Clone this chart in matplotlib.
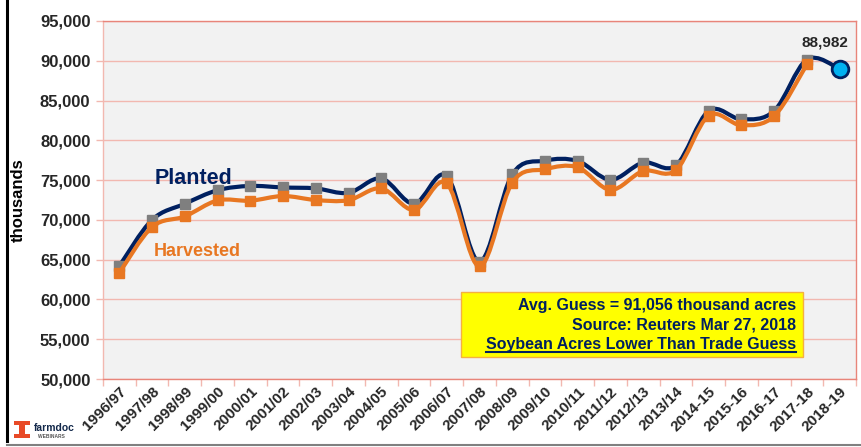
import matplotlib

matplotlib.use("Agg")

import matplotlib.pyplot as plt
import numpy as np
from matplotlib.lines import Line2D
from matplotlib.patches import PathPatch, Rectangle
from matplotlib.path import Path

plt.rcParams["font.family"] = ["Liberation Sans", "DejaVu Sans"]
plt.rcParams["font.weight"] = "bold"

# --- data (thousand acres) ---
years = [
    "1996/97", "1997/98", "1998/99", "1999/00", "2000/01", "2001/02",
    "2002/03", "2003/04", "2004/05", "2005/06", "2006/07", "2007/08",
    "2008/09", "2009/10", "2010/11", "2011/12", "2012/13", "2013/14",
    "2014-15", "2015-16", "2016-17", "2017-18", "2018-19",
]
planted = [
    64205, 70005, 72025, 73730, 74266, 74075, 73963, 73404, 75208, 72032,
    75522, 64741, 75718, 77451, 77404, 75046, 77198, 76840, 83700, 82650,
    83700, 90150, 88982,
]
harvested = [
    63349, 69110, 70441, 72446, 72408, 73001, 72497, 72476, 73958, 71251,
    74602, 64146, 74681, 76372, 76610, 73776, 76144, 76253, 83100, 81900,
    83050, 89550,
]
label_2018 = "88,982"
box_lines = [
    "Avg. Guess = 91,056 thousand acres",
    "Source: Reuters Mar 27, 2018",
    "Soybean Acres Lower Than Trade Guess",
]

NAVY = "#002060"
ORANGE = "#E87722"
GRID = "#F2B8B0"
FRAME = "#E8857A"


def smooth_path(xs, ys):
    # Excel-style smoothed line: cubic Bezier through every point
    pts = np.column_stack([xs, ys]).astype(float)
    n = len(pts)
    verts = [pts[0]]
    codes = [Path.MOVETO]
    for i in range(n - 1):
        p0 = pts[i - 1] if i > 0 else pts[i]
        p1 = pts[i]
        p2 = pts[i + 1]
        p3 = pts[i + 2] if i + 2 < n else pts[i + 1]
        c1 = p1 + (p2 - p0) / 6.0
        c2 = p2 - (p3 - p1) / 6.0
        verts += [c1, c2, p2]
        codes += [Path.CURVE4] * 3
    return Path(verts, codes)


W, H = 861, 447
fig = plt.figure(figsize=(W / 100, H / 100), dpi=100)
ax = fig.add_axes([103 / W, 1 - 379 / H, 753 / W, 358 / H])
ax.set_facecolor("#F2F2F2")

x = np.arange(len(years))
xh = np.arange(len(harvested))

ax.add_patch(PathPatch(smooth_path(x, planted), fill=False, edgecolor=NAVY,
                       lw=3.0, capstyle="round", zorder=3))
ax.plot(x[:-1], planted[:-1], ls="none", marker="s", ms=7, color="#7F7F7F",
        zorder=4)
ax.add_patch(PathPatch(smooth_path(xh, harvested), fill=False, edgecolor=ORANGE,
                       lw=3.0, capstyle="round", zorder=5))
ax.plot(xh, harvested, ls="none", marker="s", ms=7, color=ORANGE, zorder=6)
ax.plot(x[-1:], planted[-1:], ls="none", marker="o", ms=12,
        markerfacecolor="#00B0F0", markeredgecolor=NAVY, markeredgewidth=2,
        zorder=7)
ax.annotate(label_2018, (x[-1], planted[-1]), xytext=(6, 14),
            textcoords="offset points", ha="right", va="bottom",
            fontsize=11, fontweight="bold", color="#262626")

ax.set_xlim(-0.5, len(years) - 0.5)
ax.set_ylim(50000, 95000)
ax.set_yticks(np.arange(50000, 95001, 5000))
ax.set_yticklabels([f"{v:,}" for v in range(50000, 95001, 5000)],
                   fontsize=12, fontweight="bold", color="#262626")
ax.set_xticks(np.arange(-0.5, len(years), 1.0))
ax.set_xticklabels([])
ax.set_xticks(x, minor=True)
ax.set_xticklabels(years, minor=True, rotation=45, ha="right",
                   rotation_mode="anchor", fontsize=11, fontweight="bold",
                   color="#262626")
ax.tick_params(axis="x", which="major", length=5, color=GRID, width=1)
ax.tick_params(axis="x", which="minor", length=0, pad=4)
ax.tick_params(axis="y", length=5, color=GRID, width=1, pad=4)
ax.grid(axis="y", color=GRID, lw=1)
ax.set_axisbelow(True)
for s in ax.spines.values():
    s.set_color(FRAME)
    s.set_linewidth(1)
ax.spines["left"].set_color(GRID)

ax.set_ylabel("thousands", fontsize=12, fontweight="bold", labelpad=10)

ax.text(0.069, 0.56, "Planted", transform=ax.transAxes, fontsize=15.5,
        fontweight="bold", color=NAVY, va="center")
ax.text(0.067, 0.355, "Harvested", transform=ax.transAxes, fontsize=13,
        fontweight="bold", color=ORANGE, va="center")

# yellow annotation box
fig.patches.append(Rectangle((461 / W, 1 - 357 / H), 342 / W, 65 / H,
                             transform=fig.transFigure, facecolor="#FFFF00",
                             edgecolor="#F5B041", lw=1, zorder=10))
txts = []
for i, line in enumerate(box_lines):
    t = fig.text(796 / W, 1 - (305.5 + 19.3 * i) / H, line, ha="right",
                 va="center", fontsize=11.5, fontweight="bold", color=NAVY,
                 zorder=11)
    txts.append(t)

fig.canvas.draw()
bb = txts[-1].get_window_extent()
fig.add_artist(Line2D([bb.x0 / W, bb.x1 / W], [(bb.y0 - 0.5) / H] * 2,
                      transform=fig.transFigure, color=NAVY, lw=1.5, zorder=12))

# slide frame and logo
fig.add_artist(Line2D([7 / W, 7 / W], [1 - 441 / H, 1.0],
                      transform=fig.transFigure, color="black", lw=2.2))
fig.add_artist(Line2D([7 / W, 1.0], [1 - 444.5 / H] * 2,
                      transform=fig.transFigure, color="#808080", lw=1.5))
for (lx, ly, lw_, lh) in [(14, 421, 16, 4), (19, 425, 6, 9), (14, 434, 16, 4)]:
    fig.patches.append(Rectangle((lx / W, 1 - (ly + lh) / H), lw_ / W, lh / H,
                                 transform=fig.transFigure,
                                 facecolor="#E84A27", edgecolor="none"))
fig.text(34 / W, 1 - 428 / H, "farmdoc", fontsize=7.5, color="#13294B",
         fontweight="bold", va="center")
fig.text(38 / W, 1 - 437 / H, "WEBINARS", fontsize=3.5, color="#555555",
         fontweight="bold", va="center")

fig.savefig("out.png", dpi=100)
